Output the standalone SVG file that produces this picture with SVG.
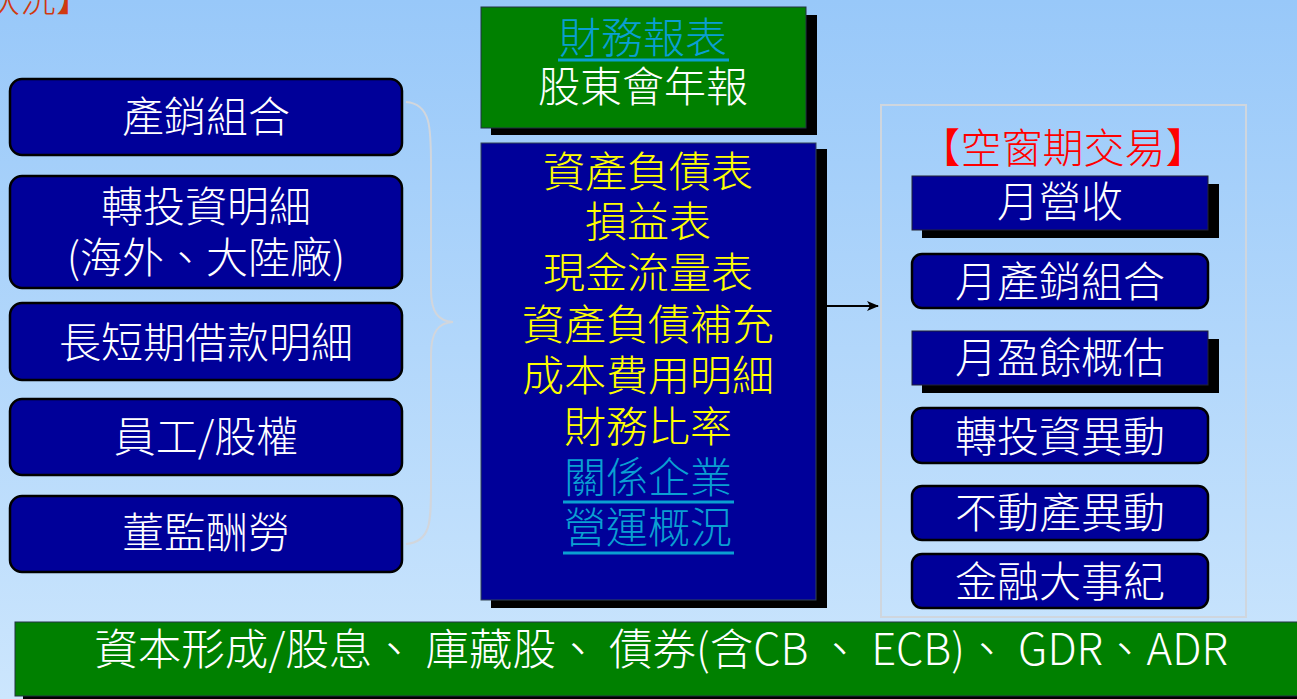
<svg xmlns="http://www.w3.org/2000/svg" width="1297" height="699" viewBox="0 0 1297 699">
<defs>
<linearGradient id="bg" x1="0" y1="0" x2="0" y2="1">
<stop offset="0" stop-color="#98c8f9"/>
<stop offset="1" stop-color="#cce6fd"/>
</linearGradient>
<marker id="arr" viewBox="0 0 12 10" refX="11" refY="5" markerWidth="12" markerHeight="10" markerUnits="userSpaceOnUse" orient="auto">
<path d="M0,0 L12,5 L0,10 L3,5 Z" fill="#000"/>
</marker>
<style>
text{font-family:"Noto Sans CJK TC","Noto Sans CJK SC",sans-serif;font-weight:300;text-anchor:middle}
.w{fill:#fff;font-size:42px}
.y{fill:#ffff00;font-size:42px}
.lnk{fill:#0a9fd2;font-size:42px}
.ul{stroke:#0a9fd2;stroke-width:3}
.rb{fill:#000099;stroke:#000;stroke-width:2.5}
.sq{fill:#000099;stroke:#223;stroke-width:1}
.sh{fill:#000}
</style>
</defs>
<rect width="1297" height="699" fill="url(#bg)"/>
<text x="-16" y="12" style="fill:#d03a10;font-size:36px;text-anchor:start">狀況】</text>

<g id="left1"><rect class="rb" x="10" y="79" width="392" height="76" rx="12"/><text class="w" x="206" y="132">產銷組合</text></g>
<g id="left2"><rect class="rb" x="10" y="176" width="392" height="112" rx="12"/><text class="w" x="206" y="222">轉投資明細</text><text class="w" x="206" y="273">(海外、大陸廠)</text></g>
<g id="left3"><rect class="rb" x="10" y="303" width="392" height="77" rx="12"/><text class="w" x="206" y="358">長短期借款明細</text></g>
<g id="left4"><rect class="rb" x="10" y="399" width="392" height="76" rx="12"/><text class="w" x="206" y="452">員工/股權</text></g>
<g id="left5"><rect class="rb" x="10" y="496" width="392" height="76" rx="12"/><text class="w" x="206" y="548">董監酬勞</text></g>

<g id="green-top">
<rect class="sh" x="491" y="15" width="326" height="120"/>
<rect x="481" y="7" width="325" height="121" fill="#008000" stroke="#234" stroke-width="1"/>
<text class="lnk" x="643" y="53">財務報表</text>
<line class="ul" x1="558" y1="60" x2="729" y2="60"/>
<text class="w" x="643" y="102">股東會年報</text>
</g>

<g id="center">
<rect class="sh" x="491" y="149" width="336" height="459"/>
<rect x="481" y="143" width="335" height="457" fill="#000099" stroke="#345" stroke-width="1"/>
<text class="y" x="648" y="187">資產負債表</text>
<text class="y" x="648" y="237">損益表</text>
<text class="y" x="648" y="288">現金流量表</text>
<text class="y" x="648" y="340">資產負債補充</text>
<text class="y" x="648" y="391">成本費用明細</text>
<text class="y" x="648" y="442">財務比率</text>
<text class="lnk" x="648" y="493">關係企業</text>
<line class="ul" x1="563" y1="502" x2="734" y2="502"/>
<text class="lnk" x="648" y="543">營運概況</text>
<line class="ul" x1="563" y1="553" x2="734" y2="553"/>
</g>

<g id="connectors">
<path d="M406,102 C432,104 431,130 431,170 L431,290 C431,312 438,321 453,322 C438,323 431,332 431,355 L431,480 C431,520 432,542 406,544" fill="none" stroke="#d2d6dc" stroke-width="2"/>
<line x1="827" y1="306" x2="878" y2="306" stroke="#000" stroke-width="2" marker-end="url(#arr)"/>
</g>

<g id="right-panel">
<rect x="881" y="105" width="365" height="512" fill="none" stroke="#cfd6de" stroke-width="2"/>
<text x="1063" y="163" style="fill:#ff0000;font-size:41px">【空窗期交易】</text>
</g>
<g id="r1"><rect class="sh" x="922" y="184" width="297" height="54"/><rect class="sq" x="912" y="176" width="296" height="54"/><text class="w" x="1060" y="217">月營收</text></g>
<g id="r2"><rect class="rb" x="912" y="254" width="296" height="54" rx="10"/><text class="w" x="1060" y="297">月產銷組合</text></g>
<g id="r3"><rect class="sh" x="922" y="339" width="297" height="54"/><rect class="sq" x="912" y="331" width="296" height="54"/><text class="w" x="1060" y="373">月盈餘概估</text></g>
<g id="r4"><rect class="rb" x="912" y="408" width="296" height="55" rx="10"/><text class="w" x="1060" y="452">轉投資異動</text></g>
<g id="r5"><rect class="rb" x="912" y="486" width="296" height="54" rx="10"/><text class="w" x="1060" y="528">不動產異動</text></g>
<g id="r6"><rect class="rb" x="912" y="554" width="296" height="54" rx="10"/><text class="w" x="1060" y="597">金融大事紀</text></g>

<g id="bottom-bar">
<rect class="sh" x="23" y="628" width="1290" height="71"/>
<rect x="15" y="622" width="1290" height="74" fill="#008000" stroke="#234" stroke-width="1"/>
<text class="w" x="661" y="665" style="font-size:43.5px">資本形成/股息、 庫藏股、 債券(含CB 、 ECB)、 GDR、ADR</text>
</g>
</svg>
